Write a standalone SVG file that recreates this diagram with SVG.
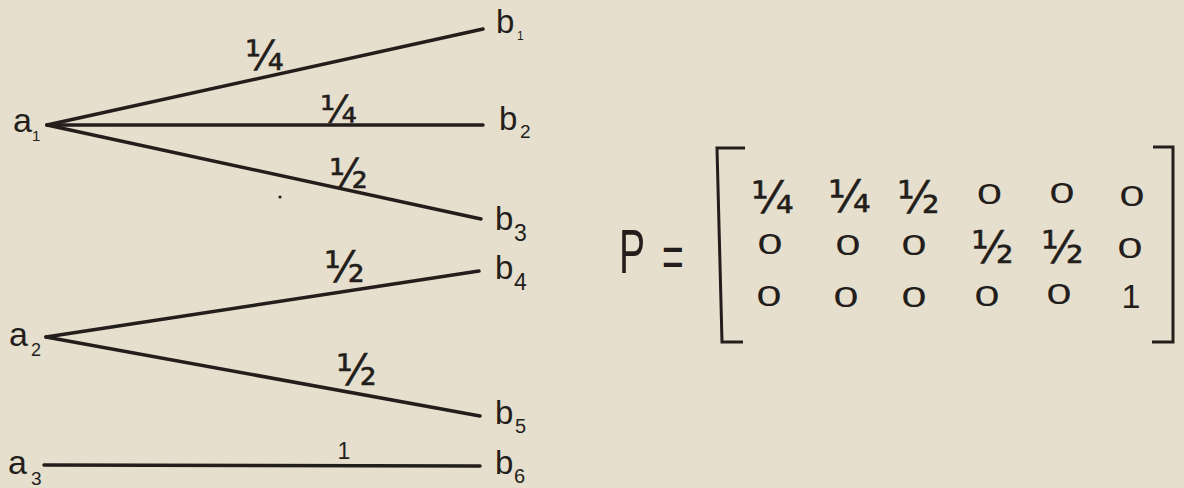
<svg xmlns="http://www.w3.org/2000/svg" width="1184" height="488" viewBox="0 0 1184 488">
<style>
.ink{fill:#231e1b}
.lbl{font-family:"Liberation Sans",Arial,sans-serif;fill:#231e1b}
.frac{font-family:"DejaVu Sans",sans-serif;fill:#231e1b;stroke:#231e1b;stroke-width:0.5}
.num{font-family:"Liberation Sans",Arial,sans-serif;fill:#231e1b;text-anchor:middle}
.edge{stroke:#231e1b;stroke-width:3.5;stroke-linecap:round;fill:none}
.br{stroke:#231e1b;stroke-width:3;fill:none;stroke-linejoin:miter}
</style>
<rect width="1184" height="488" fill="#e6dfcd"/>
<g id="connectors">
<line class="edge" x1="47" y1="125" x2="483" y2="29"/>
<line class="edge" x1="47" y1="125" x2="483" y2="125"/>
<line class="edge" x1="47" y1="125" x2="481" y2="219"/>
<line class="edge" x1="46" y1="337" x2="479" y2="271"/>
<line class="edge" x1="46" y1="337" x2="480" y2="416"/>
<line class="edge" x1="44" y1="465" x2="480" y2="466"/>
</g>
<g id="edge-labels">
<text class="frac" x="245" y="70" style="font-size:40px">¼</text>
<text class="frac" x="320" y="122" style="font-size:38px">¼</text>
<text class="frac" x="329" y="188" style="font-size:40px">½</text>
<text class="frac" x="324" y="282" style="font-size:42px">½</text>
<text class="frac" x="336" y="385" style="font-size:42px">½</text>
<text class="lbl" x="344" y="459" style="font-size:23px" text-anchor="middle">1</text>
</g>
<circle cx="280" cy="197" r="1.6" class="ink"/>
<g id="a1"><text class="lbl" x="13" y="132" style="font-size:34px">a<tspan x="32" y="141" style="font-size:15px">1</tspan></text></g>
<g id="a2"><text class="lbl" x="9" y="346" style="font-size:34px">a<tspan x="31" y="356" style="font-size:18px">2</tspan></text></g>
<g id="a3"><text class="lbl" x="8" y="474" style="font-size:34px">a<tspan x="31" y="485" style="font-size:19px">3</tspan></text></g>
<g id="b1"><text class="lbl" x="496" y="33" style="font-size:33px">b<tspan x="517" y="40" style="font-size:12px">1</tspan></text></g>
<g id="b2"><text class="lbl" x="499" y="130" style="font-size:33px">b<tspan x="520" y="138" style="font-size:19px">2</tspan></text></g>
<g id="b3"><text class="lbl" x="495" y="230" style="font-size:33px">b<tspan x="514" y="241" style="font-size:23px">3</tspan></text></g>
<g id="b4"><text class="lbl" x="495" y="279" style="font-size:33px">b<tspan x="514" y="290" style="font-size:23px">4</tspan></text></g>
<g id="b5"><text class="lbl" x="495" y="424" style="font-size:33px">b<tspan x="515" y="433" style="font-size:20px">5</tspan></text></g>
<g id="b6"><text class="lbl" x="495" y="474" style="font-size:33px">b<tspan x="514" y="483" style="font-size:20px">6</tspan></text></g>
<g id="matrix">
<text class="lbl" style="font-size:63px" transform="translate(619,273) scale(0.62,1)">P</text>
<text class="lbl" style="font-size:60px" transform="translate(662,277) scale(0.62,1)">=</text>
<path class="br" d="M745,148 L717,148 L722,342 L743,342"/>
<path class="br" d="M1153,147 L1173,147 L1173,342 L1152,342"/>
<text class="frac" x="751" y="213" style="font-size:44px">¼</text>
<text class="frac" x="828" y="212" style="font-size:44px">¼</text>
<text class="frac" x="897" y="213" style="font-size:44px">½</text>
<text class="frac" x="971" y="263" style="font-size:44px">½</text>
<text class="frac" x="1041" y="263" style="font-size:44px">½</text>
<g style="font-size:29px">
<text class="num" transform="translate(989.5,204) scale(1.55,1)">0</text>
<text class="num" transform="translate(1062,203) scale(1.55,1)">0</text>
<text class="num" transform="translate(1132,206) scale(1.55,1)">0</text>
<text class="num" transform="translate(770,254) scale(1.55,1)">0</text>
<text class="num" transform="translate(848,255) scale(1.55,1)">0</text>
<text class="num" transform="translate(914,255) scale(1.55,1)">0</text>
<text class="num" transform="translate(1130,258) scale(1.55,1)">0</text>
<text class="num" transform="translate(769,306) scale(1.55,1)">0</text>
<text class="num" transform="translate(846,307) scale(1.55,1)">0</text>
<text class="num" transform="translate(914,307) scale(1.55,1)">0</text>
<text class="num" transform="translate(987,306) scale(1.55,1)">0</text>
<text class="num" transform="translate(1059,304) scale(1.55,1)">0</text>
</g>
<text class="num" x="1131" y="308" style="font-size:34px">1</text>
</g>
</svg>
